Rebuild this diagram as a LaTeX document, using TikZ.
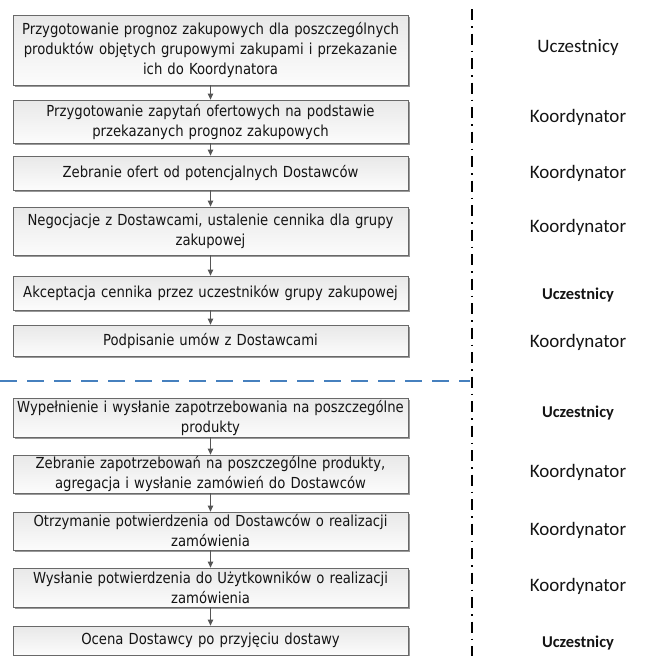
\documentclass[tikz,border=0pt]{standalone}
\usepackage{fontspec}
\setmainfont{Carlito}
\newfontfamily\boxfont[FakeStretch=0.87]{DejaVu Sans}
\usetikzlibrary{arrows.meta,shadows}
\definecolor{boxtop}{RGB}{232,232,232}
\definecolor{boxbot}{RGB}{252,252,252}
\definecolor{boxline}{RGB}{105,105,105}
\definecolor{arrowc}{RGB}{85,85,85}
\definecolor{sepblue}{RGB}{70,128,190}
\definecolor{txt}{RGB}{20,20,20}
\begin{document}
\begin{tikzpicture}[x=1pt,y=-1pt,
  stepbox/.style={draw=boxline, line width=0.8pt, top color=boxtop, bottom color=boxbot,
    minimum width=395pt, text width=395pt, align=center, inner xsep=0pt, inner ysep=0pt,
    text=txt, font=\boxfont\fontsize{15.2}{20}\selectfont,
    drop shadow={shadow xshift=1.6pt, shadow yshift=-1.6pt, fill=black!40, opacity=1}},
  flow/.style={draw=arrowc, line width=0.8pt, -{Triangle[width=5.5pt,length=6pt]}},
  rolereg/.style={text=txt, font=\fontsize{19}{22}\selectfont},
  rolebold/.style={text=txt, font=\fontsize{16.5}{20}\selectfont\bfseries},
  sepline/.style={draw=sepblue, line width=1.8pt, dash pattern=on 17pt off 10pt},
  laneline/.style={draw=black, line width=1.3pt, dash pattern=on 11pt off 6pt on 1.5pt off 6pt}
]
\useasboundingbox (0,0) rectangle (648,656);

\node[stepbox, minimum height=70pt] (b1) at (210.5,50) {Przygotowanie prognoz zakupowych dla poszczególnych\\produktów objętych grupowymi zakupami i przekazanie\\ich do Koordynatora};
\node[stepbox, minimum height=43pt] (b2) at (210.5,121.5) {Przygotowanie zapytań ofertowych na podstawie\\przekazanych prognoz zakupowych};
\node[stepbox, minimum height=34pt] (b3) at (210.5,173) {Zebranie ofert od potencjalnych Dostawców};
\node[stepbox, minimum height=48pt] (b4) at (210.5,231) {Negocjacje z Dostawcami, ustalenie cennika dla grupy\\zakupowej};
\node[stepbox, minimum height=34pt] (b5) at (210.5,293) {Akceptacja cennika przez uczestników grupy zakupowej};
\node[stepbox, minimum height=31pt] (b6) at (210.5,340.5) {Podpisanie umów z Dostawcami};

\node[stepbox, minimum height=39pt] (b7) at (210.5,417.5) {Wypełnienie i wysłanie zapotrzebowania na poszczególne\\produkty};
\node[stepbox, minimum height=38pt] (b8) at (210.5,474) {Zebranie zapotrzebowań na poszczególne produkty,\\agregacja i wysłanie zamówień do Dostawców};
\node[stepbox, minimum height=38pt] (b9) at (210.5,531) {Otrzymanie potwierdzenia od Dostawców o realizacji\\zamówienia};
\node[stepbox, minimum height=39pt] (b10) at (210.5,587.5) {Wysłanie potwierdzenia do Użytkowników o realizacji\\zamówienia};
\node[stepbox, minimum height=29pt] (b11) at (210.5,640.5) {Ocena Dostawcy po przyjęciu dostawy};

\foreach \a/\b in {b1/b2,b2/b3,b3/b4,b4/b5,b5/b6,b7/b8,b8/b9,b9/b10,b10/b11}
  \draw[flow] (\a.south) -- (\b.north);

\coordinate (sepL) at (0,381);
\coordinate (sepR) at (470,381);
\draw[sepline] (sepL) -- (sepR);

\coordinate (laneT) at (472,9);
\coordinate (laneB) at (472,656);
\draw[laneline] (laneT) -- (laneB);

\node[rolereg] (r1) at (578,47) {Uczestnicy};
\node[rolereg] (r2) at (578,117) {Koordynator};
\node[rolereg] (r3) at (578,173) {Koordynator};
\node[rolereg] (r4) at (578,227) {Koordynator};
\node[rolebold] (r5) at (578,295) {Uczestnicy};
\node[rolereg] (r6) at (578,342) {Koordynator};
\node[rolebold] (r7) at (578,413) {Uczestnicy};
\node[rolereg] (r8) at (578,472) {Koordynator};
\node[rolereg] (r9) at (578,530) {Koordynator};
\node[rolereg] (r10) at (578,586) {Koordynator};
\node[rolebold] (r11) at (578,643) {Uczestnicy};
\end{tikzpicture}
\end{document}
